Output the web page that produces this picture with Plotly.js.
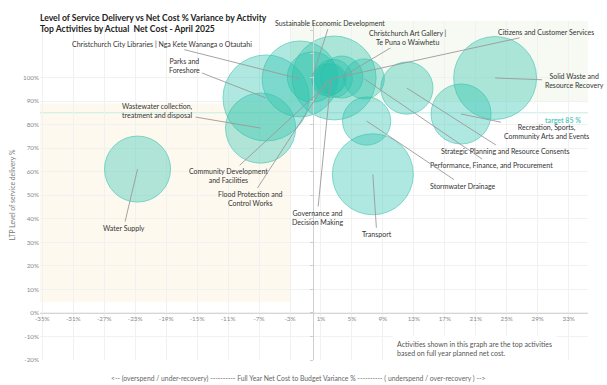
<!DOCTYPE html>
<html>
<head>
<meta charset="utf-8">
<script src="https://cdn.plot.ly/plotly-3.0.1.min.js"></script>
<style>html,body{margin:0;padding:0;background:#fff;}#chart{width:607px;height:385px;}</style>
</head>
<body>
<div id="chart"></div>
<script>
// ---- data ----
var activities = [
  "Water Supply",
  "Parks and Foreshore",
  "Wastewater collection, treatment and disposal",
  "Christchurch City Libraries | Nga Kete Wananga o Otautahi",
  "Community Development and Facilities",
  "Sustainable Economic Development",
  "Citizens and Customer Services",
  "Governance and Decision Making",
  "Flood Protection and Control Works",
  "Christchurch Art Gallery | Te Puna o Waiwhetu",
  "Performance, Finance, and Procurement",
  "Strategic Planning and Resource Consents",
  "Stormwater Drainage",
  "Transport",
  "Recreation, Sports, Community Arts and Events",
  "Solid Waste and Resource Recovery"
];
var labelText = [
  "Water Supply",
  "Parks and<br>Foreshore",
  "Wastewater collection,<br>treatment and disposal",
  "Christchurch City Libraries | Nga Kete Wananga o Otautahi",
  "Community Development<br>and Facilities",
  "Sustainable Economic Development",
  "Citizens and Customer Services",
  "Governance and<br>Decision Making",
  "Flood Protection and<br>Control Works",
  "Christchurch Art Gallery |<br>Te Puna o Waiwhetu",
  "Performance, Finance, and Procurement",
  "Strategic Planning and Resource Consents",
  "Stormwater Drainage",
  "Transport",
  "Recreation, Sports,<br>Community Arts and Events",
  "Solid Waste and<br>Resource Recovery"
];
// Full year net cost to budget variance (%)
var costVariance = [-22.7, -6.1, -6.8, -1.7, 2.7, -0.1, 2.6, 2.3, 1.9, 3.7, 6.6, 12.1, 6.9, 7.7, 19.1, 23.5];
// LTP level of service delivery (%)
var serviceLevel = [61.1, 91.3, 78.5, 99.4, 99.8, 100.2, 99.6, 99.4, 99.0, 100.2, 99.4, 95.5, 81.5, 58.9, 84.5, 99.8];
// Actual net cost (bubble size, estimated)
var netCost = [109, 185, 123, 144, 176, 63, 36, 23, 26, 44, 40, 68, 58, 164, 90, 172];

var xTicks = [-35, -31, -27, -23, -19, -15, -11, -7, -3, 1, 5, 9, 13, 17, 21, 25, 29, 33];
var xTickText = ["-35%", "-31%", "-27%", "-23%", "-19%", "-15%", "-11%", "-7%", "-3%", "1%", "5%", "9%", "13%", "17%", "21%", "25%", "29%", "33%"];
var yTicks = [-20, -10, 0, 10, 20, 30, 40, 50, 60, 70, 80, 90, 100];
var yTickText = ["-20%", "-10%", "0%", "10%", "20%", "30%", "40%", "50%", "60%", "70%", "80%", "90%", "100%"];
var y2Ticks = [-20, -10, 0, 10, 20, 30, 40, 50, 60, 70, 80, 90, 100, 110, 120];
var targetLevel = 85;

// ---- layout helpers (label placement in pixels) ----
var labelOffsets = [
  [-14, 59], [-82, -32], [-103, -17.5], [-138.5, -35], [-106, 98], [17.5, -54.3],
  [212.5, -46.3], [-14, 138.5], [-77.5, 119], [66, -39.5], [127.5, 86.7],
  [98.5, 63], [96.5, 64.7], [4, 60], [85, 17.5], [79, 3]
];

var FONT = "Lato, 'Open Sans', sans-serif";
var xRange = [-35.3, 35.5];
var yRange = [-20, 124];
var maxDiam = 86;

var trace = {
  type: "scatter",
  mode: "markers",
  x: costVariance,
  y: serviceLevel,
  text: activities,
  hovertemplate: "%{text}<br>%{x}%, %{y}%<extra></extra>",
  cliponaxis: false,
  marker: {
    size: netCost,
    sizemode: "area",
    sizeref: 2 * Math.max.apply(null, netCost) / (maxDiam * maxDiam),
    color: "rgba(46,195,173,0.54)",
    line: {color: "rgba(44,190,170,0.85)", width: 1}
  }
};

var annotations = activities.map(function (a, i) {
  return {
    x: costVariance[i], y: serviceLevel[i], xref: "x", yref: "y",
    text: labelText[i], showarrow: true, arrowhead: 0, arrowwidth: 0.9,
    arrowcolor: "#9a9a9a", ax: labelOffsets[i][0], ay: labelOffsets[i][1],
    standoff: 0, startstandoff: 1,
    font: {family: FONT, size: 7, color: "#333"}, align: "center"
  };
});

annotations.push({
  xref: "paper", yref: "y", x: 0.991, y: targetLevel, yshift: -7,
  xanchor: "right", yanchor: "middle", showarrow: false,
  text: "<b>target " + targetLevel + " %</b>",
  font: {family: FONT, size: 7, color: "#5ccbbd"}
});
annotations.push({
  xref: "paper", yref: "paper", x: 0.642, y: 0.035,
  xanchor: "left", yanchor: "middle", showarrow: false, align: "left",
  text: "Activities shown in this graph are the top activities<br>based on full year planned net cost.",
  font: {family: FONT, size: 7, color: "#555"},
  bgcolor: "#ffffff", borderpad: 4
});
annotations.push({
  xref: "paper", yref: "paper", x: 0.471, y: -0.0547,
  xanchor: "center", yanchor: "middle", showarrow: false,
  text: "<-- (overspend / under-recovery) ---------- Full Year Net Cost to Budget Variance % ---------- ( underspend / over-recovery ) -->",
  font: {family: FONT, size: 6.8, color: "#666"}
});
annotations.push({
  xref: "paper", yref: "paper", x: -0.051, y: 0.486,
  xanchor: "center", yanchor: "middle", showarrow: false, textangle: -90,
  text: "LTP Level of service delivery %",
  font: {family: FONT, size: 6.8, color: "#777"}
});

var layout = {
  width: 607, height: 385,
  margin: {l: 40, r: 19, t: 21, b: 25, pad: 0},
  paper_bgcolor: "#ffffff", plot_bgcolor: "#ffffff",
  showlegend: false,
  font: {family: FONT},
  title: {
    text: "<b>Level of Service Delivery vs Net Cost % Variance by Activity<br>Top Activities by Actual  Net Cost - April 2025</b>",
    xref: "container", yref: "container", x: 40 / 607, xanchor: "left",
    y: 1 - 21 / 385, yanchor: "middle",
    font: {family: FONT, size: 8.6, color: "#222"}
  },
  xaxis: {
    range: xRange, tickvals: xTicks, ticktext: xTickText,
    anchor: "free", position: (0 - yRange[0]) / (yRange[1] - yRange[0]),
    showline: true, linecolor: "#d6d6d6", linewidth: 1,
    showgrid: true, gridcolor: "#f1f1f1", zeroline: false,
    ticks: "", tickfont: {family: FONT, size: 6.3, color: "#8a8a8a"}
  },
  yaxis: {
    range: yRange, tickvals: yTicks, ticktext: yTickText,
    showline: false, showgrid: true, gridcolor: "#f1f1f1", zeroline: false,
    ticks: "", tickfont: {family: FONT, size: 6.3, color: "#8a8a8a"}
  },
  yaxis2: {
    range: yRange, tickvals: y2Ticks, overlaying: "y", anchor: "free",
    position: (0 - xRange[0]) / (xRange[1] - xRange[0]), side: "left",
    showline: true, linecolor: "#cfcfcf", linewidth: 1, showgrid: false,
    zeroline: false, ticks: "outside", ticklen: 3, tickcolor: "#cfcfcf",
    showticklabels: false
  },
  shapes: [
    {type: "rect", xref: "paper", yref: "y", x0: 0, x1: (-3 - xRange[0]) / (xRange[1] - xRange[0]),
     y0: 4.6, y1: 89, fillcolor: "#fef9ef", line: {width: 0}, layer: "below"},
    {type: "rect", xref: "x", yref: "y", x0: -3, x1: xRange[1],
     y0: 90, y1: yRange[1], fillcolor: "#f6faf2", line: {width: 0}, layer: "below"},
    {type: "line", xref: "paper", yref: "y", x0: 0, x1: 1, y0: targetLevel, y1: targetLevel,
     line: {color: "#c8ebe6", width: 1}, layer: "below"}
  ],
  annotations: annotations
};

// invisible trace to activate yaxis2
var axisTrace = {type: "scatter", x: [0], y: [0], yaxis: "y2", mode: "markers",
  marker: {opacity: 0}, hoverinfo: "skip"};

Plotly.newPlot("chart", [axisTrace, trace], layout, {displayModeBar: false, staticPlot: true});
</script>
</body>
</html>
